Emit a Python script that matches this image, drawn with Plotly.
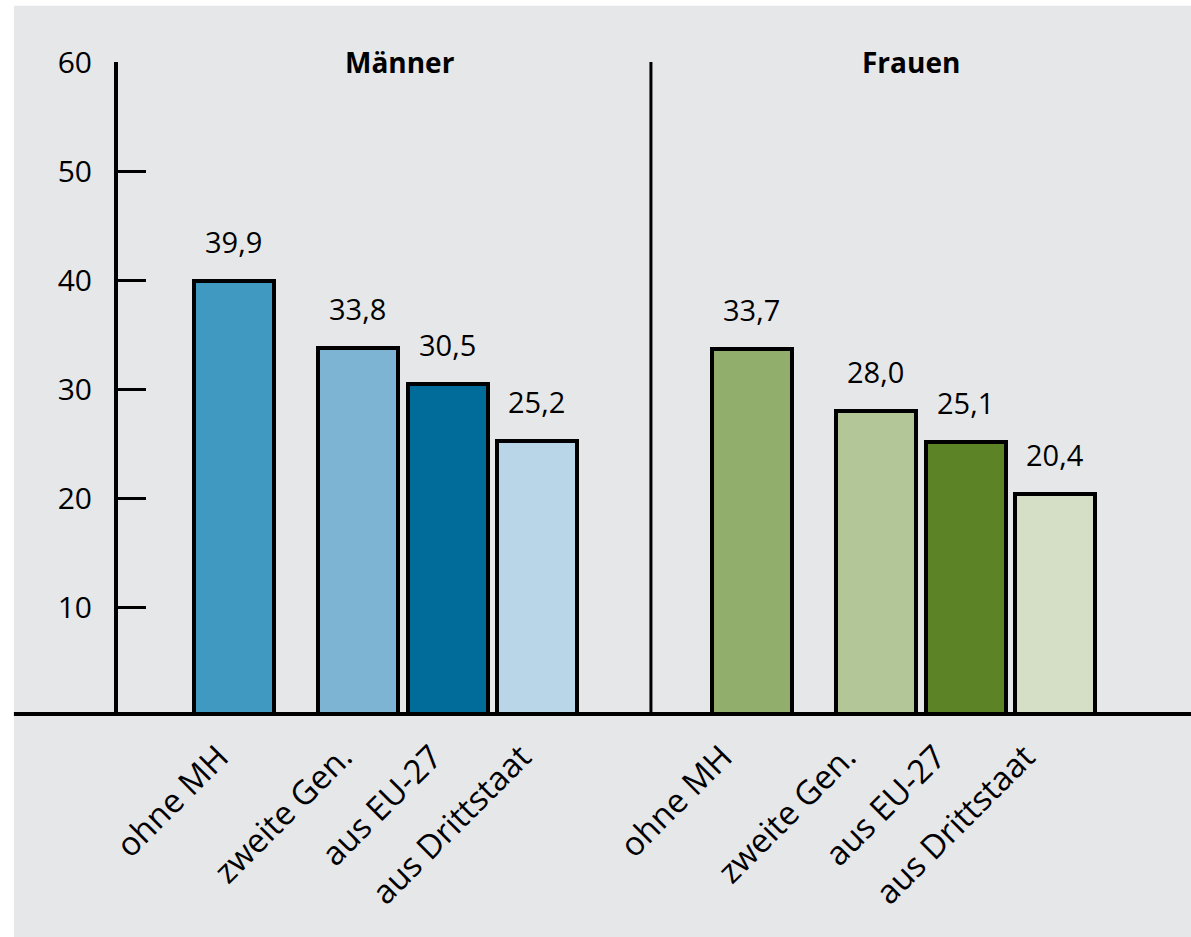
import plotly.graph_objects as go

# Categories and values (share in percent)
categories = ["ohne MH", "zweite Gen.", "aus EU-27", "aus Drittstaat"]
groups = ["Männer", "Frauen"]
values_maenner = [39.9, 33.8, 30.5, 25.2]
values_frauen = [33.7, 28.0, 25.1, 20.4]
y_ticks = [10, 20, 30, 40, 50, 60]

# Layout: slot positions of the bars inside each group, group offsets
slot_offsets = [0.0, 1.39, 2.40, 3.40]
group_offsets = [0.0, 5.82]
label_shift = [-0.17, -0.33]
title_offsets = [1.86, 1.79]
bar_width = 0.9

colors = {
    "Männer": ["#3f99c1", "#7db3d3", "#016b99", "#b9d5e8"],
    "Frauen": ["#91ae6d", "#b2c697", "#5c8427", "#d5dfc5"],
}

FONT = "Open Sans"
BG = "#e6e7e9"
SIZE = 30

fig = go.Figure()

tickvals, ticktext = [], []
annotations = []
for g, vals, go_off, shift, t_off in zip(groups, [values_maenner, values_frauen],
                                          group_offsets, label_shift, title_offsets):
    xs = [go_off + s for s in slot_offsets]
    fig.add_trace(go.Bar(
        x=xs, y=vals, width=bar_width,
        marker=dict(color=colors[g], line=dict(color="black", width=4)),
        name=g, showlegend=False, hoverinfo="skip",
    ))
    for x, v in zip(xs, vals):
        annotations.append(dict(
            x=x, y=v, xref="x", yref="y", text=f"{v:.1f}".replace(".", ","),
            showarrow=False, yanchor="bottom", yshift=18,
            font=dict(family=FONT, size=SIZE - 1, color="black"),
        ))
    tickvals += [x + shift for x in xs]
    ticktext += categories
    annotations.append(dict(
        x=go_off + t_off, y=1.0, xref="x", yref="paper",
        text=f"<b>{g}</b>", showarrow=False, yanchor="middle",
        font=dict(family=FONT, size=28, color="black"),
    ))

shapes = [
    # gray panel
    dict(type="rect", xref="paper", yref="paper", x0=-0.097, x1=1.0, y0=-0.34, y1=1.086,
         fillcolor=BG, line=dict(width=0), layer="below"),
    # divider between the two groups
    dict(type="line", xref="x", yref="paper", x0=4.685, x1=4.685, y0=0, y1=1.0,
         line=dict(color="black", width=3)),
    # baseline
    dict(type="line", xref="paper", yref="y", x0=-0.097, x1=1.0, y0=0, y1=0,
         line=dict(color="black", width=8)),
]

fig.update_layout(
    width=1191, height=937,
    margin=dict(l=118, r=0, t=62, b=221),
    paper_bgcolor="white", plot_bgcolor="rgba(0,0,0,0)",
    bargap=0, barmode="overlay",
    annotations=annotations, shapes=shapes,
    font=dict(family=FONT, color="black"),
    xaxis=dict(
        range=[-1.303, 10.753], tickvals=tickvals, ticktext=ticktext,
        tickangle=-45, ticks="", showgrid=False, zeroline=False, showline=False,
        tickfont=dict(family=FONT, size=33, color="black"),
        ticklabelstandoff=14, fixedrange=True,
    ),
    yaxis=dict(
        range=[0, 60], tickvals=y_ticks, ticks="inside", ticklen=28, tickwidth=3,
        tickcolor="black", showline=True, linewidth=4, linecolor="black",
        showgrid=False, zeroline=False,
        tickfont=dict(family=FONT, size=SIZE, color="black"),
        ticklabelstandoff=16, fixedrange=True,
    ),
)

fig.write_html("out.html")
